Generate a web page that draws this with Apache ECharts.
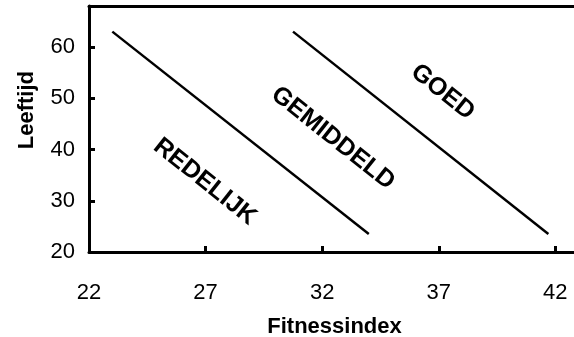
<!DOCTYPE html>
<html><head><meta charset="utf-8">
<script src="https://cdn.jsdelivr.net/npm/echarts@6/dist/echarts.min.js"></script>
<style>html,body{margin:0;padding:0;background:#fff}#c{width:574px;height:337px}</style>
</head><body><div id="c"></div>
<script>
const xTicks = [22, 27, 32, 37, 42];
const yTicks = [20, 30, 40, 50, 60];
const lineRedelijk = [[23, 63], [34, 23.5]];
const lineGoed = [[30.75, 63], [41.7, 23.5]];
const zoneLabels = ['REDELIJK', 'GEMIDDELD', 'GOED'];
const zoneLabelPos = [[26.97, 33.7], [32.46, 42.2], [37.17, 51.2]];
const xName = 'Fitnessindex';
const yName = 'Leeftijd';

const FONT = '"Liberation Sans", Arial, sans-serif';
const chart = echarts.init(document.getElementById('c'), null, {renderer: 'canvas'});
const lineStyleAxis = {color: '#000', width: 3};
chart.setOption({
  animation: false,
  grid: {left: 89, right: 0, top: 6, bottom: 85, containLabel: false, outerBoundsMode: 'none'},
  xAxis: [{
    type: 'value', min: 22, max: 42.8, position: 'bottom',
    axisLine: {show: true, lineStyle: lineStyleAxis, onZero: false},
    axisTick: {show: true, inside: true, length: 6, lineStyle: {color: '#000', width: 3}, customValues: xTicks},
    axisLabel: {customValues: xTicks, color: '#000', fontSize: 22, fontFamily: FONT, margin: 30},
    splitLine: {show: false},
    name: xName, nameLocation: 'middle', nameGap: 64,
    nameTextStyle: {fontWeight: 'bold', fontSize: 22, color: '#000', fontFamily: FONT, padding: [0, 0, 0, 6]}
  }, {
    type: 'value', min: 22, max: 42.8, position: 'top',
    axisLine: {show: true, lineStyle: lineStyleAxis, onZero: false},
    axisTick: {show: false}, axisLabel: {show: false}, splitLine: {show: false}
  }],
  yAxis: {
    type: 'value', min: 20, max: 68,
    axisLine: {show: true, lineStyle: lineStyleAxis, onZero: false},
    axisTick: {show: true, inside: true, length: 6, lineStyle: {color: '#000', width: 3}, customValues: yTicks},
    axisLabel: {customValues: yTicks, color: '#000', fontSize: 22, fontFamily: FONT, margin: 14},
    splitLine: {show: false}
  },
  graphic: [{
    type: 'text', left: 16, top: 71, rotation: Math.PI / 2,
    style: {text: yName, font: 'bold 22px ' + FONT, fill: '#000'}
  }],
  series: [
    {type: 'line', data: lineRedelijk, symbol: 'none', lineStyle: {color: '#000', width: 2.5}, silent: true},
    {type: 'line', data: lineGoed, symbol: 'none', lineStyle: {color: '#000', width: 2.5}, silent: true},
    {type: 'scatter', symbolSize: 0, silent: true, itemStyle: {opacity: 1},
     data: zoneLabels.map((t, i) => ({value: zoneLabelPos[i], name: t})),
     label: {show: true, position: 'inside', formatter: p => p.name, rotate: -38.5,
       fontSize: 25, fontWeight: 'bold', color: '#000', opacity: 1, textBorderWidth: 0, fontFamily: FONT}}
  ]
});
</script></body></html>
